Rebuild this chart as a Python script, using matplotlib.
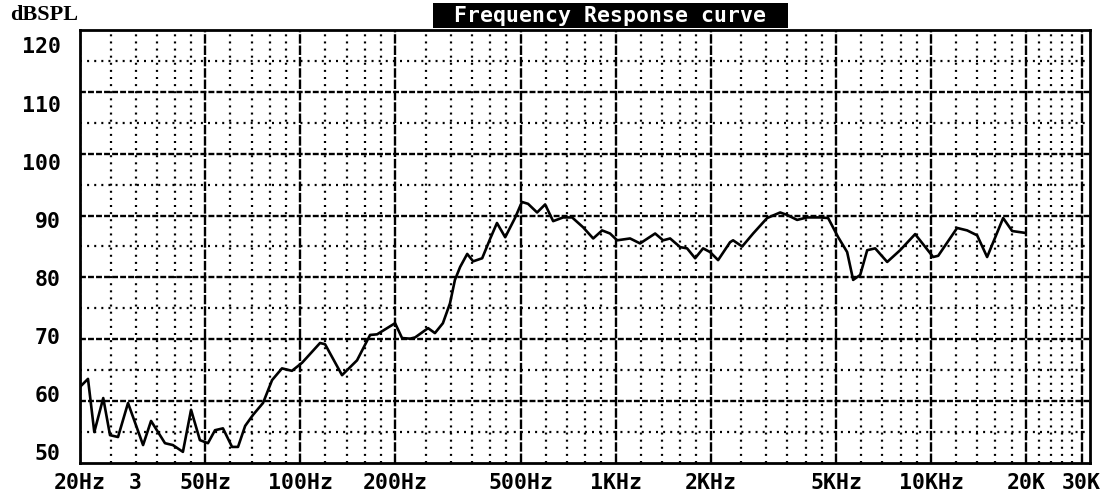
import numpy as np
import matplotlib
matplotlib.use("Agg")
import matplotlib.pyplot as plt
from matplotlib.patches import Rectangle

# ---- data ----
freq_hz = [20, 21.2, 22.2, 23.7, 24.9, 26.4, 28.4, 31.7, 33.6, 37.2, 39.4, 42.4, 45.0,
           48.0, 50.9, 53.6, 56.8, 60.7, 63.4, 66.8, 70.8, 76.1, 81.3, 87.4, 94.0,
           101.2, 115.4, 119.7, 135.5, 151.2, 166.3, 175, 199.6, 210, 222.7, 231,
           254, 267, 283, 298, 309, 321, 338, 353, 377, 400, 420, 446, 479, 504,
           527, 563, 597, 633, 681, 727, 788, 848, 905, 959, 1010, 1110, 1194, 1333,
           1413, 1487, 1600, 1683, 1785, 1892, 1991, 2111, 2304, 2355, 2517, 2726,
           3019, 3321, 3494, 3759, 4044, 4446, 4714, 5074, 5416, 5659, 5958, 6270,
           6646, 7256, 7973, 8898, 10150, 10530, 12090, 13010, 13993, 15050, 16920,
           18070, 19870]
spl_db = [62.3, 63.6, 55.0, 60.5, 54.5, 54.2, 59.7, 52.9, 56.8, 53.2, 52.9, 51.8, 58.6,
          53.7, 53.2, 55.3, 55.6, 52.6, 52.6, 56.0, 57.8, 59.7, 63.4, 65.3, 64.9,
          66.2, 69.4, 69.2, 64.2, 66.6, 70.7, 70.8, 72.6, 70.2, 70.1, 70.3,
          71.8, 71.0, 72.6, 75.8, 79.6, 81.7, 83.8, 82.6, 83.1, 86.3, 88.8, 86.5, 89.6, 92.2,
          91.9, 90.5, 91.8, 89.1, 89.7, 89.7, 88.1, 86.3, 87.6, 87.1, 86.0, 86.3, 85.5, 87.1,
          86.0, 86.3, 84.9, 84.7, 83.1, 84.7, 84.1, 82.8, 85.7, 86.0, 85.0, 87.1,
          89.6, 90.5, 90.1, 89.3, 89.7, 89.7, 89.6, 86.5, 84.1, 79.6, 80.4, 84.4,
          84.7, 82.5, 84.4, 87.0, 83.3, 83.5, 88.0, 87.6, 86.8, 83.3, 89.6,
          87.5, 87.2]

x_tick_values = [20, 30, 50, 100, 200, 500, 1000, 2000, 5000, 10000, 20000, 30000]
x_tick_labels = ["20Hz", "3", "50Hz", "100Hz", "200Hz", "500Hz", "1KHz", "2KHz",
                 "5KHz", "10KHz", "20K", "30K"]
y_tick_labels = ["120", "110", "100", "90", "80", "70", "60", "50"]
title_text = "Frequency Response curve"
y_unit = "dBSPL"

# ---- figure ----
W, H = 1111, 497
fig = plt.figure(figsize=(W / 100, H / 100), dpi=100)
fig.patch.set_facecolor("white")
ax = fig.add_axes([80 / W, 1 - 463 / H, (1090 - 80) / W, (463 - 30) / H])
ax.set_xscale("log")
ax.set_xlim(20, 31900)
ax.set_ylim(50, 120)

mono = "DejaVu Sans Mono"

# grid: majors
major_x = [20, 50, 100, 200, 500, 1000, 2000, 5000, 10000, 20000, 30000]
for xv in major_x:
    ax.axvline(xv, color="black", lw=1.7, linestyle=(0, (4, 0.8)), zorder=1)
minor_x = []
for base in [10, 100, 1000]:
    for m in [2.5, 3, 3.5, 4, 4.5, 6, 7, 8, 9]:
        minor_x.append(base * m)
for base in [100, 1000, 10000]:
    for m in [1.2, 1.4, 1.6, 1.8]:
        minor_x.append(base * m)
minor_x += [22000, 24000, 26000, 28000]
for xv in sorted(set(minor_x)):
    ax.axvline(xv, color="black", lw=1.6, linestyle=(0, (0.9, 2.3)), zorder=1)
for yv in range(60, 120, 10):
    ax.axhline(yv, color="black", lw=1.7, linestyle=(0, (2.5, 0.9)), zorder=1)
for yv in range(55, 120, 10):
    ax.axhline(yv, color="black", lw=1.6, linestyle=(0, (0.9, 2.3)), zorder=1)

ax.plot(freq_hz, spl_db, color="black", lw=1.9, zorder=3)

for s in ax.spines.values():
    s.set_linewidth(2.0)
    s.set_color("black")

ax.set_xticks(x_tick_values)
ax.set_xticklabels(x_tick_labels, fontfamily=mono, fontweight="bold", fontsize=15.5)
ax.xaxis.set_minor_locator(matplotlib.ticker.NullLocator())
ax.tick_params(axis="x", length=0, pad=7)

# y labels placed evenly as in the reference (slightly offset from grid lines)
ypos = np.linspace(117.5, 51.8, len(y_tick_labels))
ax.set_yticks(ypos)
ax.set_yticklabels(y_tick_labels, fontfamily=mono, fontweight="bold", fontsize=15.5)
ax.yaxis.set_minor_locator(matplotlib.ticker.NullLocator())
ax.tick_params(axis="y", length=0, pad=14)

fig.text(10 / W, 1 - 15 / H, y_unit, fontfamily="Liberation Serif", fontweight="bold",
         fontsize=16, ha="left", va="center")

fig.patches.append(Rectangle((433 / W, 1 - 28 / H), (788 - 433) / W, 25 / H,
                             transform=fig.transFigure, facecolor="black",
                             edgecolor="none", zorder=5))
fig.text(610 / W, 1 - 16 / H, title_text, fontfamily=mono, fontweight="bold",
         fontsize=15.5, color="white", ha="center", va="center", zorder=6)

fig.savefig("out.png", dpi=100, facecolor="white")
